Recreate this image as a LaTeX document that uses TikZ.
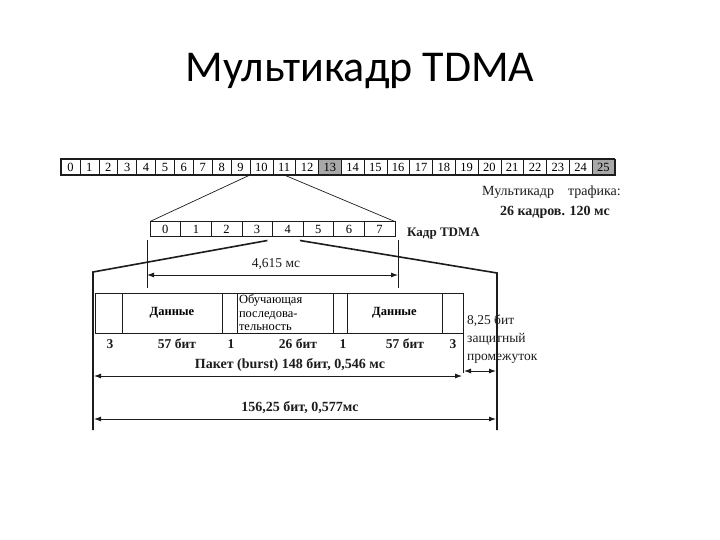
\documentclass[tikz,border=0pt]{standalone}
\usepackage{fontspec}
\setmainfont{Liberation Serif}
\newfontfamily\titlefont{Carlito}
\usepackage{xcolor}
\usetikzlibrary{arrows.meta,positioning,calc}
\definecolor{ink}{HTML}{1C1C1C}
\definecolor{slotgray}{HTML}{A8A8A8}
\tikzset{
  titletext/.style={font=\titlefont\fontsize{44}{44}\selectfont,text=black},
  slotcell/.style={
    draw=ink,line width=.6pt,minimum height=16pt,inner sep=0pt,
    outer sep=0pt,anchor=west,font=\fontsize{12.5}{12.5}\selectfont
  },
  burstcell/.style={
    draw=ink,line width=.7pt,minimum height=40pt,inner sep=1pt,
    outer sep=0pt,font=\bfseries\fontsize{12.5}{12.5}\selectfont
  },
  notetext/.style={font=\fontsize{13.5}{13.5}\selectfont,text=ink,inner sep=1pt},
  boldtext/.style={font=\bfseries\fontsize{13.5}{13.5}\selectfont,text=ink,inner sep=1pt},
  bitlabel/.style={font=\bfseries\fontsize{13.5}{13.5}\selectfont,text=ink,inner sep=1pt},
  thinline/.style={draw=ink,line width=.7pt},
  thickline/.style={draw=ink,line width=1.6pt},
  dimarrow/.style={{Latex[length=7pt,width=5pt]}-{Latex[length=7pt,width=5pt]},draw=ink,line width=.9pt}
}

\begin{document}
\begin{tikzpicture}[x=1pt,y=-1pt]
\useasboundingbox[fill=white] (0,0) rectangle (720,540);
\node[titletext] (title) at (360,71) {Мультикадр TDMA};
% multiframe of 26 frames
\foreach \i in {0,...,9}
  \node[slotcell,minimum width=18.9pt] (m\i) at ({61+18.9*\i},167) {\i};
\foreach \i in {10,...,25}{
  \ifnum\i=13 \def\cellfill{slotgray}\else\ifnum\i=25 \def\cellfill{slotgray}\else\def\cellfill{white}\fi\fi
  \node[slotcell,minimum width=22.8pt,fill=\cellfill] (m\i) at ({250+22.8*(\i-10)},167) {\i};
}
\draw[line width=1.1pt,draw=ink] (m0.north west) rectangle (m25.south east);
\node[notetext,font=\fontsize{14}{14}\selectfont,anchor=west] (mflabel) at (481,192) {Мультикадр\quad трафика:};
\node[boldtext,font=\bfseries\fontsize{14}{14}\selectfont] (mfinfo) at (555,212) {26 кадров. 120 мс};
% TDMA frame
\foreach \i in {0,...,7}
  \node[slotcell,minimum width=30.6pt,minimum height=15pt] (f\i) at ({150+30.6*\i},229) {\i};
\node[boldtext,font=\bfseries\fontsize{13}{13}\selectfont,anchor=west] (framelabel) at (406,234) {Кадр TDMA};
\draw[thinline] (m9.south east) -- (f0.north west);
\draw[thinline] (m11.south) -- (f7.north east);
% frame duration
\coordinate (ta) at (147,240);
\coordinate (tb) at (147,288);
\coordinate (tc) at (398,240);
\coordinate (td) at (398,288);
\coordinate (da) at (147,275);
\coordinate (db) at (398,275);
\draw[thinline,line width=.6pt] (ta) -- (tb);
\draw[thinline,line width=.6pt] (tc) -- (td);
\draw[dimarrow] (da) -- (db);
\node[notetext] (framedur) at (276,264) {4,615 мс};
% burst
\node[burstcell,minimum width=27pt,anchor=west] (b1) at (95,313) {};
\node[burstcell,minimum width=100pt,right=0pt of b1] (b2) {Данные};
\node[burstcell,minimum width=15pt,right=0pt of b2] (b3) {};
\node[burstcell,minimum width=96pt,right=0pt of b3,text width=92pt,align=left,
  font=\fontsize{12.5}{13.5}\selectfont] (b4) {Обучающая\\последова-\\тельность};
\node[burstcell,minimum width=14pt,right=0pt of b4] (b5) {};
\node[burstcell,minimum width=95pt,right=0pt of b5] (b6) {Данные};
\node[burstcell,minimum width=21pt,right=0pt of b6] (b7) {};
\foreach \x/\t [count=\k] in {110/3,177/57 бит,231/1,298/26 бит,343/1,405/57 бит,453/3}
  \node[bitlabel] (l\k) at (\x,344) {\t};
\node[notetext,anchor=north west,align=left,font=\fontsize{13.5}{18}\selectfont] (guard)
  at (466,314) {8,25 бит\\защитный\\промежуток};
% expansion lines
\coordinate (sl) at ($(f3.south east)+(-5,4)$);
\coordinate (sr) at ($(f4.south east)+(-3,4)$);
\coordinate (pl) at (93,272);
\coordinate (pr) at (497,273);
\coordinate (plb) at (93,430);
\coordinate (prb) at (497,430);
\draw[thickline] (sl) -- (pl) -- (plb);
\draw[thickline] (sr) -- (pr) -- (prb);
\coordinate (be) at (463,373);
\draw[thinline] (b7.south east) -- (be);
% durations
\coordinate (ba) at (94,376);
\coordinate (bb) at (462,376);
\coordinate (ga) at (464,371);
\coordinate (gb) at (496,371);
\coordinate (fa) at (94,419);
\coordinate (fb) at (496,419);
\draw[dimarrow] (ba) -- (bb);
\draw[dimarrow] (ga) -- (gb);
\draw[dimarrow] (fa) -- (fb);
\node[bitlabel,font=\bfseries\fontsize{14}{14}\selectfont] (burstdur) at (290,365) {Пакет (burst) 148 бит, 0,546 мс};
\node[bitlabel,font=\bfseries\fontsize{14}{14}\selectfont] (slotdur) at (300,408) {156,25 бит, 0,577мс};
\end{tikzpicture}
\end{document}
